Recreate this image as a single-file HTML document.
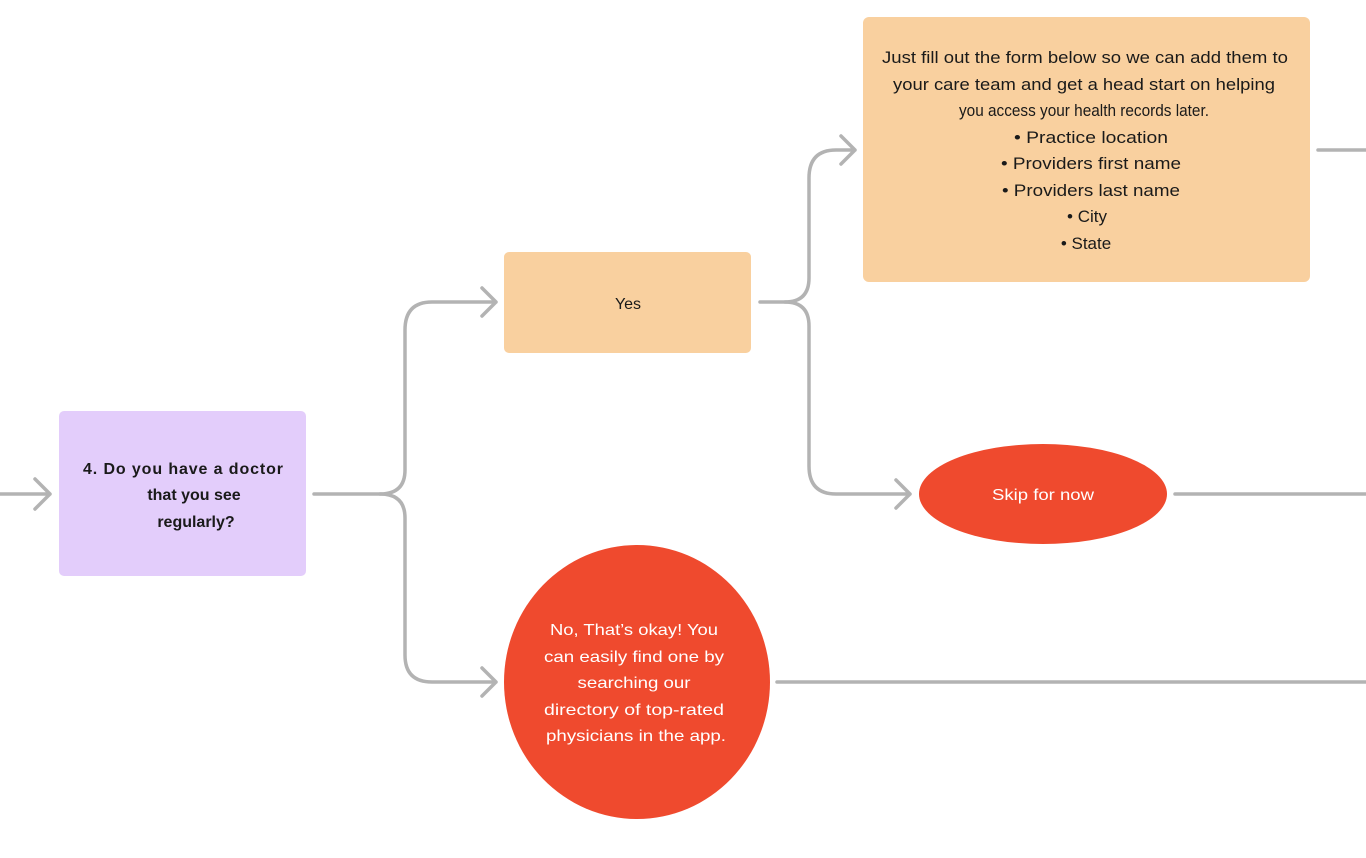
<!DOCTYPE html>
<html><head><meta charset="utf-8"><style>
html,body{margin:0;padding:0;background:#fff;width:1366px;height:858px;overflow:hidden}
svg{display:block}
text{font-family:"Liberation Sans",sans-serif}
</style></head><body>
<svg width="1366" height="858" viewBox="0 0 1366 858">
<g fill="none" stroke="#b3b3b3" stroke-width="3.5" stroke-linecap="round" stroke-linejoin="round">
<path d="M0 494 H50 M35 479 L50 494 L35 509"/>
<path d="M314 494 H380 Q405 494 405 470 V330 Q405 302 432 302 H496 M482 288 L496 302 L482 316"/>
<path d="M380 494 Q405 494 405 518 V655 Q405 682 432 682 H496 M482 668 L496 682 L482 696"/>
<path d="M760 302 H785 Q809 302 809 278 V178 Q809 150 836 150 H855 M841 136 L855 150 L841 164"/>
<path d="M785 302 Q809 302 809 326 V466 Q809 494 836 494 H910 M896 480 L910 494 L896 508"/>
<path d="M1318 150 H1366"/>
<path d="M1175 494 H1366"/>
<path d="M777 682 H1366"/>
</g>
<rect x="59" y="411" width="247" height="165" rx="5" fill="#e3cdfb"/>
<rect x="504" y="252" width="247" height="101" rx="5" fill="#f9d09f"/>
<rect x="863" y="17" width="447" height="265" rx="6" fill="#f9d09f"/>
<ellipse cx="1043" cy="494" rx="124" ry="50" fill="#ef4a2e"/>
<ellipse cx="637" cy="682" rx="133" ry="137" fill="#ef4a2e"/>
<g font-size="16" font-weight="bold" fill="#1a1a1a" text-anchor="middle">
<text x="183" y="474" textLength="200">4. Do you have a doctor</text>
<text x="194" y="500">that you see</text>
<text x="196" y="527">regularly?</text>
</g>
<text x="628" y="309" font-size="16" fill="#1a1a1a" text-anchor="middle">Yes</text>
<g font-size="17" fill="#1a1a1a" text-anchor="middle">
<text x="1085" y="63" textLength="406" lengthAdjust="spacingAndGlyphs">Just fill out the form below so we can add them to</text>
<text x="1084" y="90" textLength="382" lengthAdjust="spacingAndGlyphs">your care team and get a head start on helping</text>
<text x="1084" y="116" textLength="250" lengthAdjust="spacingAndGlyphs">you access your health records later.</text>
<text x="1091" y="143" textLength="154" lengthAdjust="spacingAndGlyphs">•  Practice location</text>
<text x="1091" y="169" textLength="180" lengthAdjust="spacingAndGlyphs">•  Providers first name</text>
<text x="1091" y="196" textLength="178" lengthAdjust="spacingAndGlyphs">•  Providers last name</text>
<text x="1087" y="222">•  City</text>
<text x="1086" y="249">•  State</text>
</g>
<text x="1043" y="500" font-size="16" fill="#fff" text-anchor="middle" textLength="102" lengthAdjust="spacingAndGlyphs">Skip for now</text>
<g font-size="16" fill="#fff" text-anchor="middle">
<text x="634" y="635" textLength="168" lengthAdjust="spacingAndGlyphs">No, That’s okay! You</text>
<text x="634" y="662" textLength="180" lengthAdjust="spacingAndGlyphs">can easily find one by</text>
<text x="634" y="688" textLength="113" lengthAdjust="spacingAndGlyphs">searching our</text>
<text x="634" y="715" textLength="180" lengthAdjust="spacingAndGlyphs">directory of top-rated</text>
<text x="636" y="741" textLength="180" lengthAdjust="spacingAndGlyphs">physicians in the app.</text>
</g>
</svg>
</body></html>
